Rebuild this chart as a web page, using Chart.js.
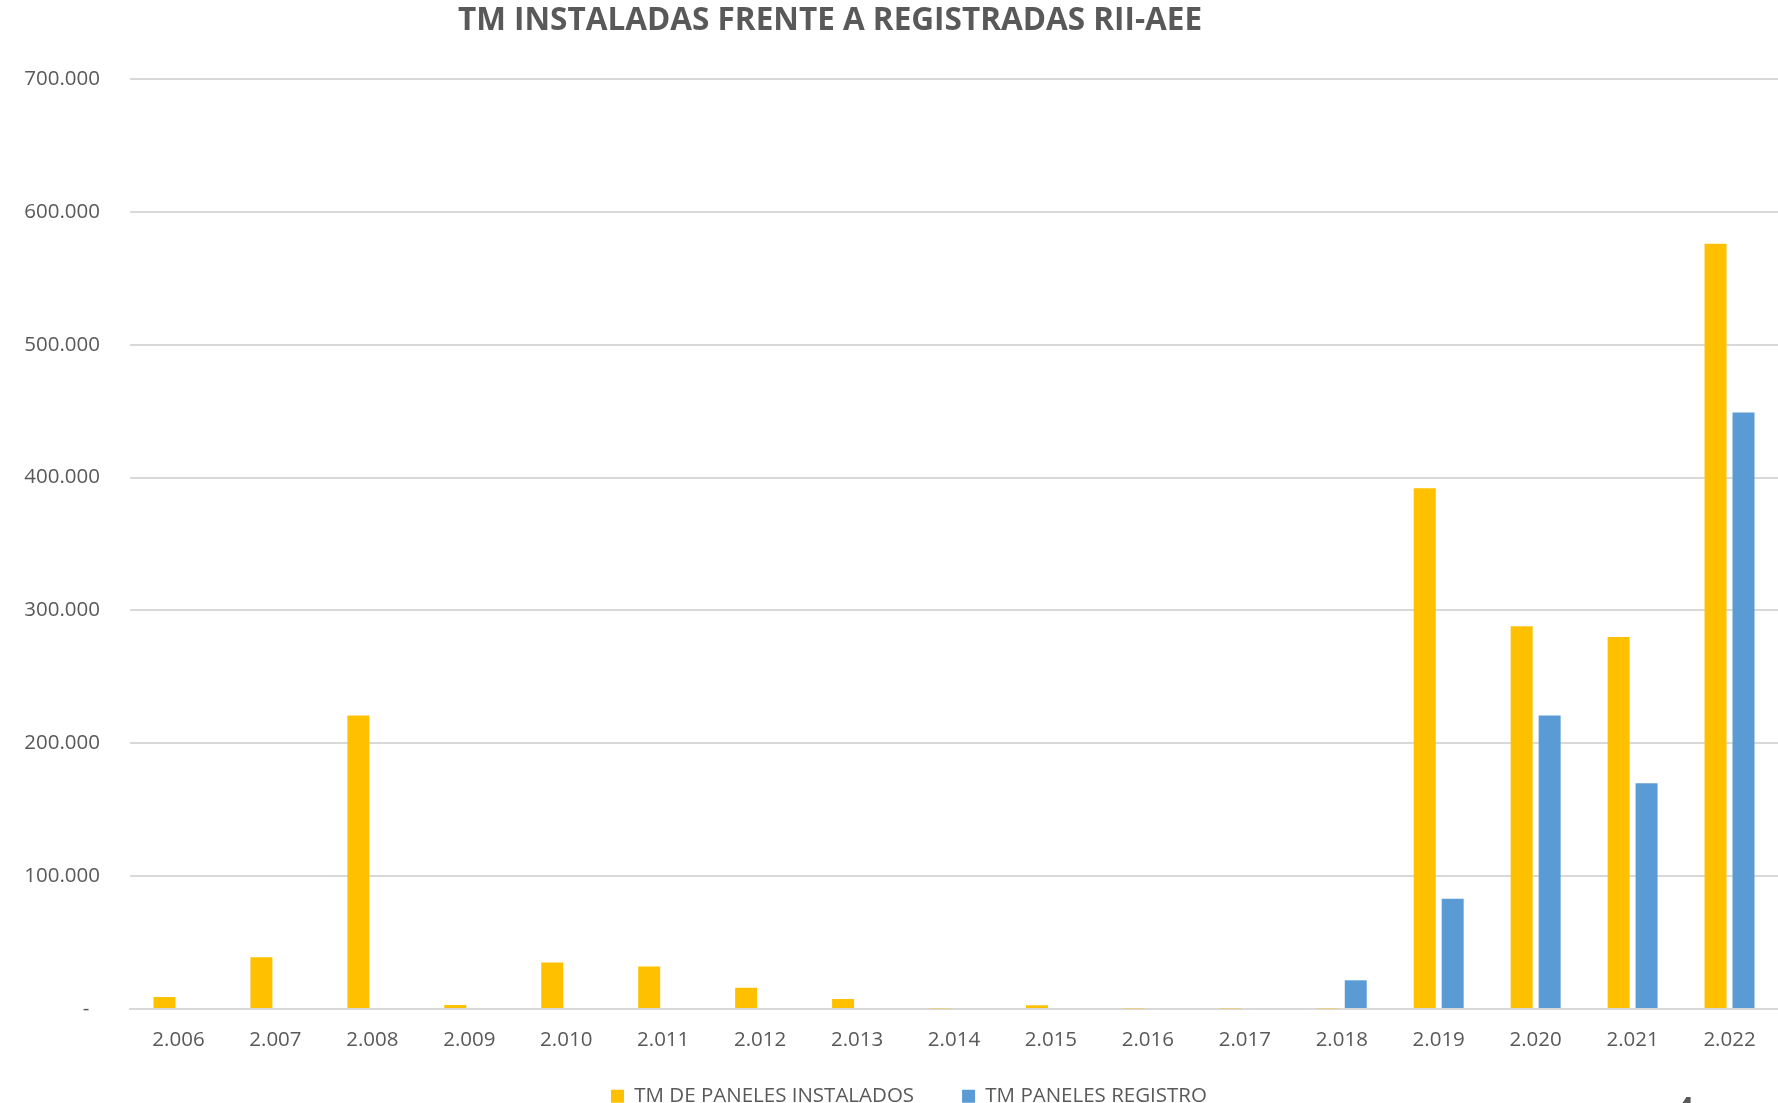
<!DOCTYPE html>
<html>
<head>
<meta charset="utf-8">
<script src="https://cdn.jsdelivr.net/npm/chart.js@4.4.0/dist/chart.umd.min.js"></script>
<style>
  html, body { margin: 0; padding: 0; background: #fff; overflow: hidden; }
</style>
</head>
<body>
<canvas id="myChart" width="1778" height="1103"></canvas>
<script>
// datos
const chartTitle = 'TM INSTALADAS FRENTE A REGISTRADAS RII-AEE';
const pageNumber = '4';
const years = ['2.006', '2.007', '2.008', '2.009', '2.010', '2.011', '2.012', '2.013', '2.014',
  '2.015', '2.016', '2.017', '2.018', '2.019', '2.020', '2.021', '2.022'];
const seriesNames = ['TM DE PANELES INSTALADOS', 'TM PANELES REGISTRO'];
const installed = [9000, 39000, 221000, 3000, 35000, 32000, 16000, 7500, 500,
  2800, 500, 500, 500, 392000, 288000, 280000, 576000];
const registered = [0, 0, 0, 0, 0, 0, 0, 0, 0,
  0, 0, 0, 21600, 83000, 221000, 170000, 449000];
const yTicks = [0, 100000, 200000, 300000, 400000, 500000, 600000, 700000];

const textColor = '#595959';
const gridColor = '#d9d9d9';

function formatMiles(v) {
  if (v === 0) return '-  ';
  return String(v).replace(/\B(?=(\d{3})+(?!\d))/g, '.');
}

// titulo y numero de pagina (descentrados como en la diapositiva)
const slideText = {
  id: 'slideText',
  afterLayout(chart) {
    // la leyenda del original queda cortada abajo y algo a la derecha
    const lg = chart.legend;
    lg.left += 20;
    lg.right += 20;
    lg.top -= 16;
    lg.bottom -= 16;
  },
  afterDraw(chart) {
    const ctx = chart.ctx;
    ctx.save();
    ctx.fillStyle = textColor;
    ctx.font = 'bold 31.5px "Open Sans"';
    ctx.textAlign = 'center';
    ctx.textBaseline = 'middle';
    ctx.fillText(chartTitle, 830, 21);
    ctx.font = 'bold 30px "Open Sans"';
    ctx.textBaseline = 'alphabetic';
    ctx.fillText(pageNumber, 1685, 1119);
    ctx.restore();
  }
};

const ctx = document.getElementById('myChart');
new Chart(ctx, {
  type: 'bar',
  data: {
    labels: years,
    datasets: [
      {
        label: seriesNames[0],
        data: installed,
        backgroundColor: '#FFC000',
        categoryPercentage: 0.577,
        barPercentage: 0.786,
      },
      {
        label: seriesNames[1],
        data: registered,
        backgroundColor: '#5B9BD5',
        categoryPercentage: 0.577,
        barPercentage: 0.786,
      },
    ],
  },
  options: {
    responsive: false,
    animation: false,
    layout: { padding: { top: 79, left: 0, right: 0, bottom: -29.5 } },
    plugins: {
      title: { display: false },
      tooltip: { enabled: false },
      legend: {
        position: 'bottom',
        labels: {
          color: textColor,
          font: { family: 'Open Sans', size: 20.5 },
          boxWidth: 13,
          boxHeight: 13,
          padding: 48,
        },
      },
    },
    scales: {
      x: {
        grid: { display: false },
        border: { display: true, color: gridColor, width: 2 },
        ticks: {
          color: textColor,
          font: { family: 'Open Sans', size: 20.5 },
          padding: 11,
          maxRotation: 0,
        },
        afterFit: (scale) => { scale.height = 45; },
      },
      y: {
        min: 0,
        max: 700000,
        afterBuildTicks: (scale) => { scale.ticks = yTicks.map((v) => ({ value: v })); },
        grid: { color: gridColor, lineWidth: 2, drawTicks: false },
        border: { display: false },
        ticks: {
          color: textColor,
          font: { family: 'Open Sans', size: 20.5 },
          padding: 30,
          callback: (v) => formatMiles(v),
        },
        afterFit: (scale) => { scale.width = 130; },
      },
    },
  },
  plugins: [slideText],
});
</script>
</body>
</html>
